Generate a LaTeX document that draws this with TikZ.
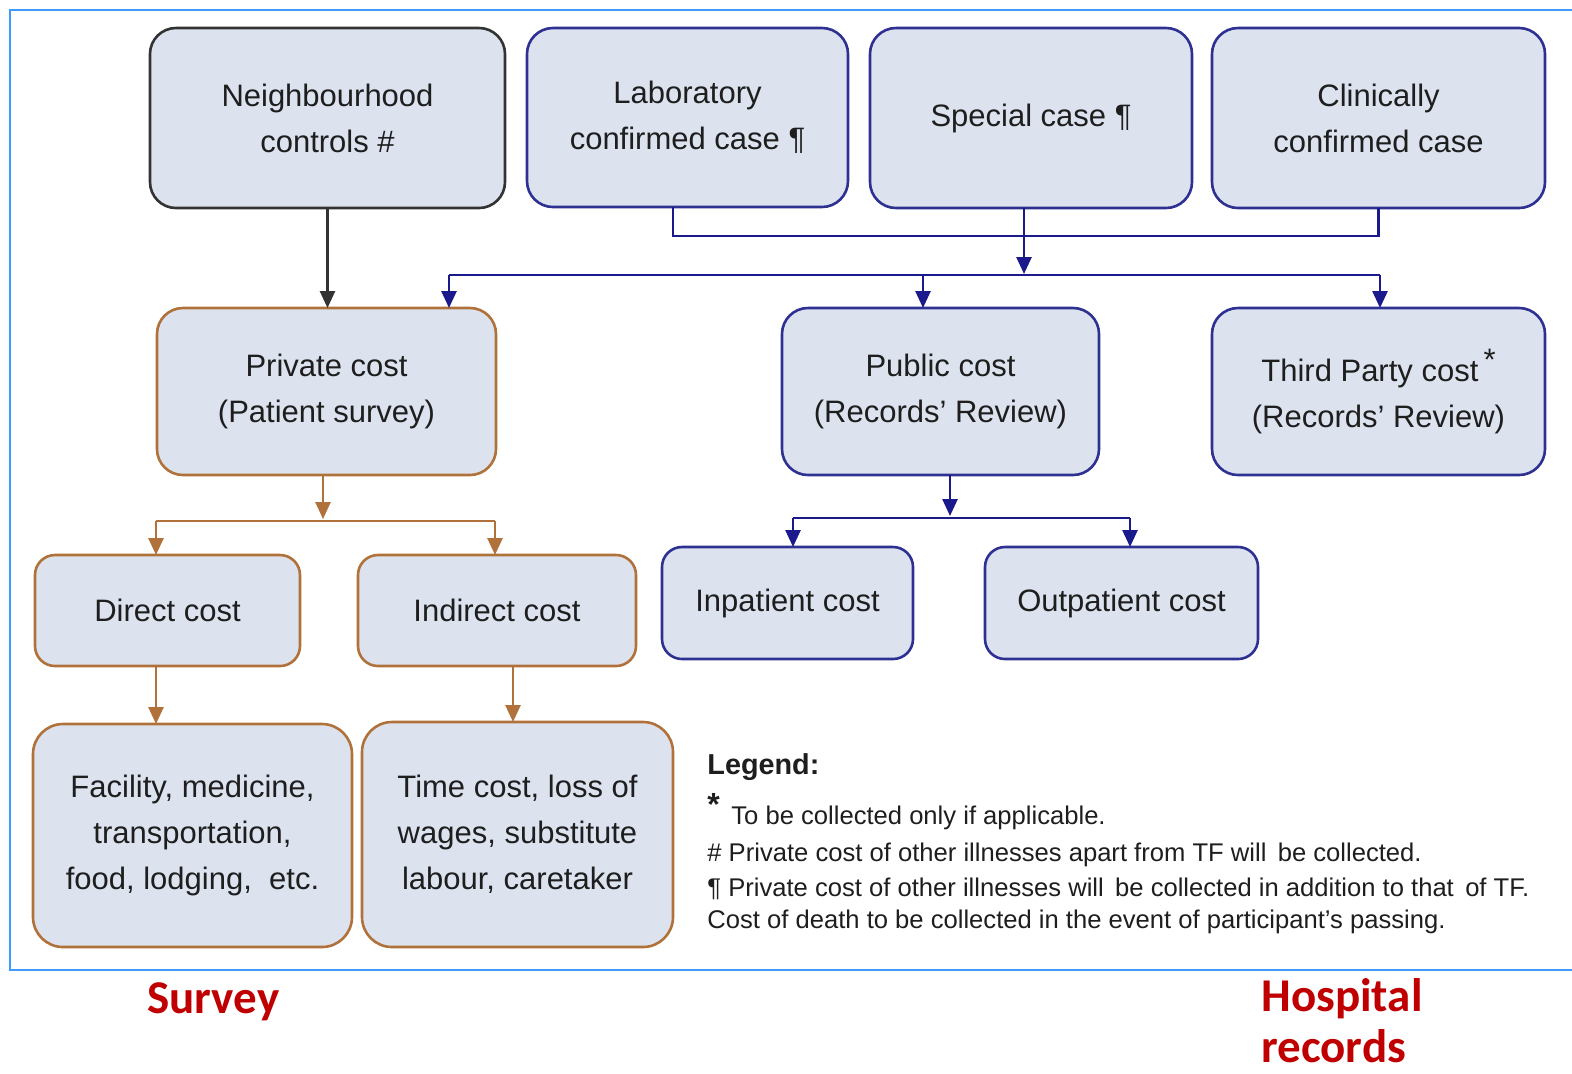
\documentclass[tikz,border=0pt]{standalone}
\usepackage{fontspec}
\setmainfont{Liberation Sans}
\newfontfamily\redfont{Carlito}
\usetikzlibrary{arrows.meta,calc}
\definecolor{boxfill}{HTML}{DCE3EF}
\definecolor{navyb}{HTML}{2E3192}
\definecolor{navyl}{HTML}{1A1A8C}
\definecolor{brownb}{HTML}{B0723A}
\definecolor{blackb}{HTML}{333333}
\definecolor{txt}{HTML}{1E1E1E}
\definecolor{redt}{HTML}{C00000}
\definecolor{framec}{HTML}{3D9BFF}
\tikzset{
  box/.style={draw, fill=boxfill, line width=1.3pt, rounded corners=13pt,
    align=center, outer sep=0pt, inner sep=2pt, text=txt,
    font=\fontsize{15.5}{23}\selectfont},
  blackbox/.style={box, draw=blackb},
  navybox/.style={box, draw=navyb},
  brownbox/.style={box, draw=brownb},
  tip/.style={-{Triangle[length=8.5pt,width=7.5pt]}},
  navyline/.style={draw=navyl, line width=1.3pt},
  brownline/.style={draw=brownb, line width=1.3pt},
  blackline/.style={draw=blackb, line width=1.3pt},
  legtext/.style={anchor=base west, inner sep=0pt, text=txt, font=\fontsize{12.8}{15}\selectfont},
  redlabel/.style={anchor=base west, inner sep=0pt, text=redt, font=\redfont\bfseries\fontsize{23.5}{27.5}\selectfont}
}
\begin{document}
\begin{tikzpicture}[x=0.5pt,y=-0.5pt]
\useasboundingbox[fill=white] (0,0) rectangle (1572,1073);
% frame
\draw[framec, line width=1pt] (1572,10) -- (10,10) -- (10,970) -- (1572,970);

% top row
\node[blackbox, minimum width=177.5pt, minimum height=90pt] (nc) at (327.5,118) {Neighbourhood\\controls \#};
\node[navybox, minimum width=160.5pt, minimum height=89.5pt] (lab) at (687.5,117.5) {\rule{0pt}{0pt}Laboratory\\confirmed case \P};
\node[navybox, minimum width=161pt, minimum height=90pt] (spec) at (1031,118) {Special case \P};
\node[navybox, minimum width=166.5pt, minimum height=90pt] (clin) at (1378.5,118) {Clinically\\confirmed case};

% second row
\node[brownbox, minimum width=169.5pt, minimum height=83.5pt] (priv) at (326.5,391.5) {Private cost\\(Patient survey)};
\node[navybox, minimum width=158.5pt, minimum height=83.5pt] (pub) at (940.5,391.5) {Public cost\\(Records’ Review)};
\node[navybox, minimum width=166.5pt, minimum height=83.5pt] (third) at (1378.5,391.5) {Third Party cost\,\raisebox{0.35em}{*}\\(Records’ Review)};

% third row
\node[brownbox, rounded corners=10pt, minimum width=132.5pt, minimum height=55.5pt] (dir) at (167.5,610.5) {Direct cost};
\node[brownbox, rounded corners=10pt, minimum width=139pt, minimum height=55.5pt] (ind) at (497,610.5) {Indirect cost};
\node[navybox, rounded corners=10pt, minimum width=125.5pt, minimum height=56pt] (inp) at (787.5,603) {Inpatient cost};
\node[navybox, rounded corners=10pt, minimum width=136.5pt, minimum height=56pt] (outp) at (1121.5,603) {Outpatient cost};

% fourth row
\node[brownbox, rounded corners=15pt, minimum width=159.5pt, minimum height=111.5pt] (fac) at (192.5,835.5) {Facility, medicine,\\transportation,\\food, lodging, \ etc.};
\node[brownbox, rounded corners=15pt, minimum width=155.5pt, minimum height=112.5pt] (time) at (517.5,834.5) {Time cost, loss of\\wages, substitute\\labour, caretaker};

% connectors: top
\draw[blackline, tip] (nc.south) -- (nc.south |- priv.north);
\coordinate (j1) at (1024,236);
\coordinate (bus) at (1024,274);
\coordinate (lx) at (673,0);
\draw[navyline] (lab.south -| lx) |- (clin.south |- j1) -- (clin.south);
\draw[navyline, tip] (spec.south -| j1) -- (bus);
\coordinate (busL) at (449,275);
\coordinate (busM) at (923,275);
\coordinate (busR) at (1380,275);
\draw[navyline] (busL) -- (busR);
\draw[navyline, tip] (busL) -- (busL |- priv.north);
\draw[navyline, tip] (busM) -- (busM |- pub.north);
\draw[navyline, tip] (busR) -- (busR |- third.north);

% private branch
\coordinate (pj) at (323,519);
\coordinate (pL) at (156,521);
\coordinate (pR) at (495,521);
\draw[brownline, tip] (priv.south -| pj) -- (pj);
\draw[brownline] (pL) -- (pR);
\draw[brownline, tip] (pL) -- (pL |- dir.north);
\draw[brownline, tip] (pR) -- (pR |- ind.north);
\coordinate (dx) at (156,0);
\coordinate (ix) at (513,0);
\draw[brownline, tip] (dir.south -| dx) -- (fac.north -| dx);
\draw[brownline, tip] (ind.south -| ix) -- (time.north -| ix);

% public branch
\coordinate (qj) at (950,516);
\coordinate (qL) at (793,518);
\coordinate (qR) at (1130,518);
\draw[navyline, tip] (pub.south -| qj) -- (qj);
\draw[navyline] (qL) -- (qR);
\draw[navyline, tip] (qL) -- (qL |- inp.north);
\draw[navyline, tip] (qR) -- (qR |- outp.north);

% legend
\node[legtext, font=\bfseries\fontsize{14.4}{17}\selectfont] (legt) at (707,774) {Legend:};
\node[legtext, font=\bfseries\fontsize{16}{17}\selectfont] (l1s) at (707,815) {*};
\node[legtext] (l1) at (731,824) {To be collected only if applicable.};
\node[legtext] (l2) at (707,861) {\# Private cost of other illnesses apart from TF will \,be collected.};
\node[legtext] (l3) at (707,896) {\P\ Private cost of other illnesses will \,be collected in addition to that \,of TF.};
\node[legtext] (l4) at (707,928) {Cost of death to be collected in the event of participant’s passing.};

% red labels
\node[redlabel] (survey) at (147,1013) {Survey};
\node[redlabel] (hosp) at (1261,1011) {Hospital};
\node[redlabel] (rec) at (1261,1062) {records};
\end{tikzpicture}
\end{document}
